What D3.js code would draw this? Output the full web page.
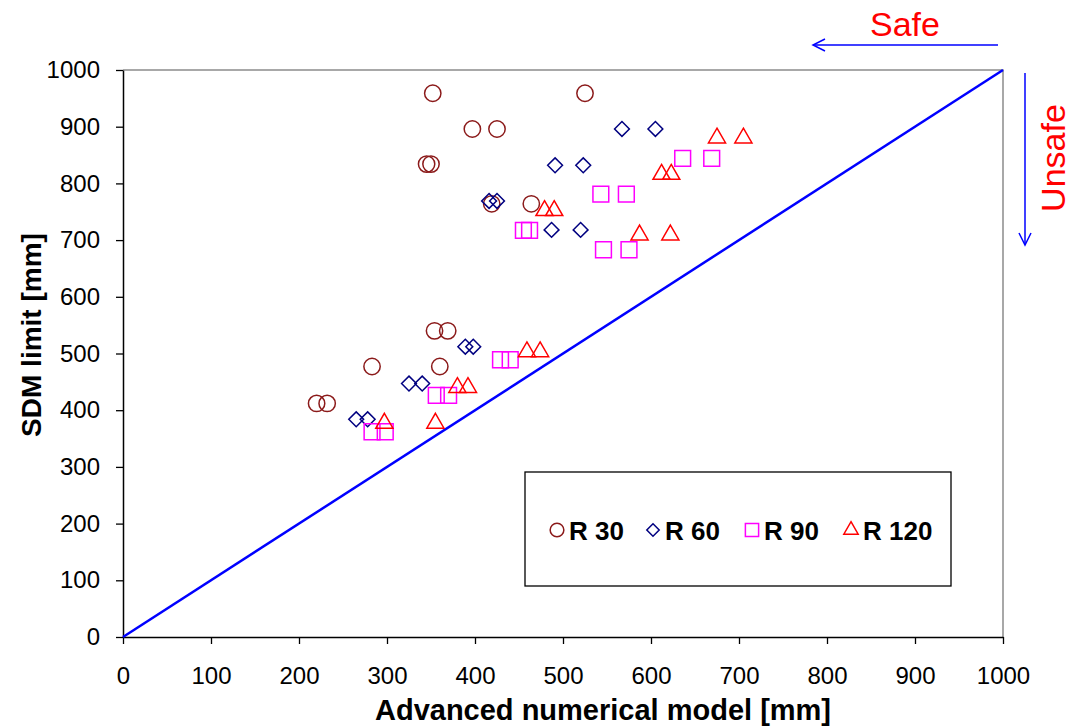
<!DOCTYPE html>
<html>
<head>
<meta charset="utf-8">
<script src="https://cdn.jsdelivr.net/npm/d3@7"></script>
<style>
  body { margin: 0; background: #fff; }
  text { font-family: "Liberation Sans", Arial, sans-serif; }
</style>
</head>
<body>
<svg id="chart" width="1072" height="727"></svg>
<script>
//////////////////// DATA ////////////////////
const seriesNames = ["R 30", "R 60", "R 90", "R 120"];
const r30X = [352, 525, 397, 425, 345, 350, 419, 464, 354, 369, 283, 360, 220, 232];
const r30Y = [959, 959, 896, 896, 834, 834, 764, 764, 540, 540, 477, 477, 412, 412];
const r60X = [567, 605, 491, 523, 416, 425, 487, 520, 389, 398, 325, 340, 265, 278];
const r60Y = [896, 896, 832, 832, 769, 769, 718, 718, 512, 512, 447, 447, 384, 384];
const r90X = [636, 669, 543, 572, 455, 462, 546, 575, 429, 440, 356, 370, 283, 298];
const r90Y = [844, 844, 781, 781, 717, 717, 683, 683, 489, 489, 426, 426, 362, 362];
const r120X = [675, 705, 612, 623, 479, 490, 587, 622, 459, 474, 380, 392, 297, 355];
const r120Y = [880, 880, 816, 816, 752, 752, 709, 709, 503, 503, 440, 440, 377, 377];
const tickValues = [0, 100, 200, 300, 400, 500, 600, 700, 800, 900, 1000];
const diagonal = [0, 1000];

//////////////////// SIZES ////////////////////
const svg = d3.select("#chart");
const plot = { left: 123, right: 1003, top: 70, bottom: 637 };

const xScale = d3.scaleLinear().domain([0, 1000]).range([plot.left, plot.right]);
const yScale = d3.scaleLinear().domain([0, 1000]).range([plot.bottom, plot.top]);

// series styles
const seriesStyle = [
    { symbol: d3.symbolCircle, color: "#8b1a1a", size: 210 },
    { symbol: d3.symbolDiamond2, color: "#000080", size: 140 },
    { symbol: d3.symbolSquare, color: "#ff00ff", size: 250 },
    { symbol: d3.symbolTriangle2, color: "#ff0000", size: 210 }
];
const seriesData = [
    r30X.map((x, i) => ({ x: x, y: r30Y[i] })),
    r60X.map((x, i) => ({ x: x, y: r60Y[i] })),
    r90X.map((x, i) => ({ x: x, y: r90Y[i] })),
    r120X.map((x, i) => ({ x: x, y: r120Y[i] }))
];

//////////////////// FRAME ////////////////////
// gray top and right border
svg.append("path")
    .attr("d", `M${plot.left},${plot.top}H${plot.right}V${plot.bottom}`)
    .attr("fill", "none")
    .attr("stroke", "#8c8c8c")
    .attr("stroke-width", 1.5);

//////////////////// AXES ////////////////////
const xAxis = d3.axisBottom(xScale).tickValues(tickValues).tickFormat(d3.format("d"))
    .tickSize(7).tickPadding(23).tickSizeOuter(0);
const yAxis = d3.axisLeft(yScale).tickValues(tickValues).tickFormat(d3.format("d"))
    .tickSize(7).tickPadding(16).tickSizeOuter(0);

const xAxisGroup = svg.append("g")
    .attr("transform", `translate(0, ${plot.bottom})`)
    .call(xAxis);
const yAxisGroup = svg.append("g")
    .attr("transform", `translate(${plot.left}, 0)`)
    .call(yAxis);

[xAxisGroup, yAxisGroup].forEach(g => {
    g.select(".domain").attr("stroke", "#000").attr("stroke-width", 1.5);
    g.selectAll(".tick line").attr("stroke", "#000").attr("stroke-width", 1.3);
    g.selectAll(".tick text")
        .attr("fill", "#000")
        .style("font-size", "24px")
        .style("font-family", "'Liberation Sans', Arial, sans-serif");
});

// axis labels
svg.append("text")
    .attr("x", 603)
    .attr("y", 720)
    .attr("text-anchor", "middle")
    .style("font-size", "29px")
    .style("font-weight", "bold")
    .text("Advanced numerical model [mm]");

svg.append("text")
    .attr("transform", "rotate(-90, 41, 335)")
    .attr("x", 41)
    .attr("y", 335)
    .attr("text-anchor", "middle")
    .style("font-size", "28px")
    .style("font-weight", "bold")
    .text("SDM limit [mm]");

//////////////////// DIAGONAL ////////////////////
svg.append("line")
    .attr("x1", xScale(diagonal[0]))
    .attr("y1", yScale(diagonal[0]))
    .attr("x2", xScale(diagonal[1]))
    .attr("y2", yScale(diagonal[1]))
    .attr("stroke", "#0000ff")
    .attr("stroke-width", 2.5);

//////////////////// POINTS ////////////////////
seriesData.forEach((data, s) => {
    const st = seriesStyle[s];
    svg.append("g")
        .selectAll("path")
        .data(data)
        .enter()
        .append("path")
        .attr("d", d3.symbol().type(st.symbol).size(st.size))
        .attr("transform", d => `translate(${xScale(d.x)}, ${yScale(d.y)})`)
        .attr("fill", "none")
        .attr("stroke", st.color)
        .attr("stroke-width", 1.5);
});

//////////////////// LEGEND ////////////////////
svg.append("rect")
    .attr("x", 525)
    .attr("y", 472)
    .attr("width", 426)
    .attr("height", 114)
    .attr("fill", "#fff")
    .attr("stroke", "#000")
    .attr("stroke-width", 1.3);

const legendX = [557, 653, 752, 851];
seriesNames.forEach((name, s) => {
    const st = seriesStyle[s];
    svg.append("path")
        .attr("d", d3.symbol().type(st.symbol).size(st.size * 0.7))
        .attr("transform", `translate(${legendX[s]}, 530)`)
        .attr("fill", "none")
        .attr("stroke", st.color)
        .attr("stroke-width", 1.5);
    svg.append("text")
        .attr("x", legendX[s] + 12)
        .attr("y", 540)
        .style("font-size", "26px")
        .style("font-weight", "bold")
        .text(name);
});

//////////////////// SAFE / UNSAFE ARROWS ////////////////////
const arrowColor = "#0000ff";
svg.append("line")
    .attr("x1", 998).attr("y1", 45).attr("x2", 813).attr("y2", 45)
    .attr("stroke", arrowColor).attr("stroke-width", 1.5);
svg.append("path")
    .attr("d", "M825,39L813,45L825,51")
    .attr("fill", "none").attr("stroke", arrowColor).attr("stroke-width", 1.5);

svg.append("line")
    .attr("x1", 1025).attr("y1", 73).attr("x2", 1025).attr("y2", 245)
    .attr("stroke", arrowColor).attr("stroke-width", 1.5);
svg.append("path")
    .attr("d", "M1019,233L1025,245L1031,233")
    .attr("fill", "none").attr("stroke", arrowColor).attr("stroke-width", 1.5);

svg.append("text")
    .attr("x", 905)
    .attr("y", 36)
    .attr("text-anchor", "middle")
    .attr("fill", "#ff0000")
    .style("font-size", "34px")
    .text("Safe");

svg.append("text")
    .attr("transform", "rotate(-90, 1065, 158)")
    .attr("x", 1065)
    .attr("y", 158)
    .attr("text-anchor", "middle")
    .attr("fill", "#ff0000")
    .style("font-size", "34px")
    .text("Unsafe");
</script>
</body>
</html>
